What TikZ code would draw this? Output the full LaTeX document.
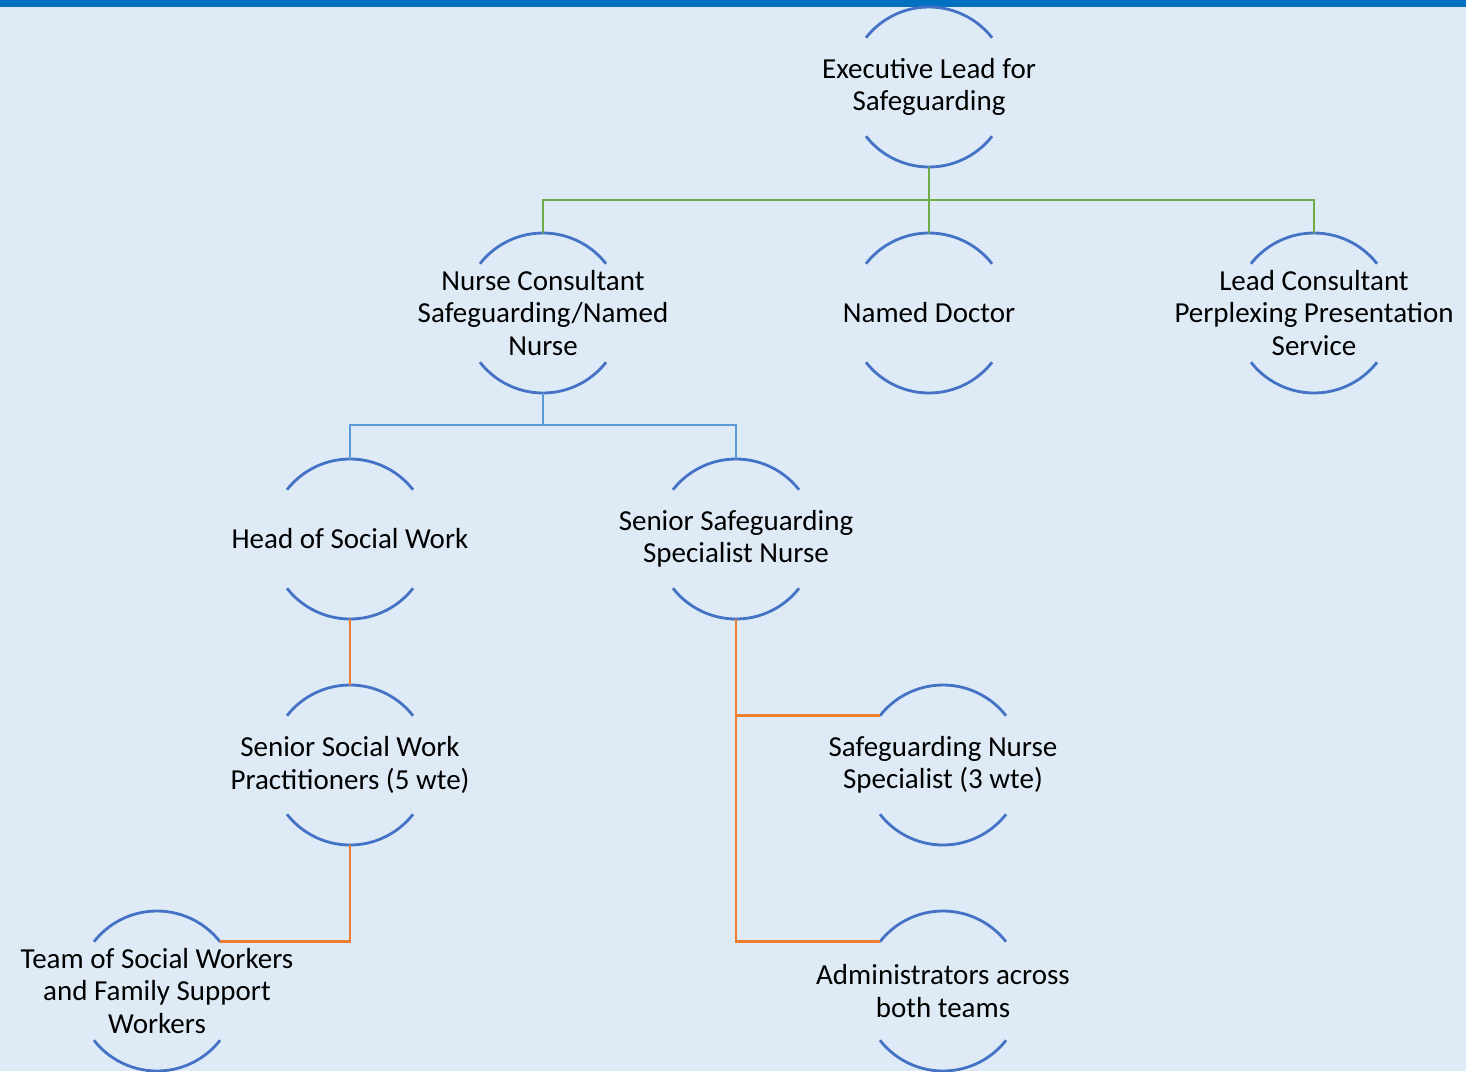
\documentclass[tikz,border=0pt]{standalone}
\usepackage{fontspec}
\setmainfont{Carlito}
\definecolor{bgc}{RGB}{222,235,247}
\definecolor{barc}{RGB}{0,112,192}
\definecolor{arcc}{RGB}{68,114,196}
\definecolor{grc}{RGB}{112,173,71}
\definecolor{blc}{RGB}{91,155,213}
\definecolor{orc}{RGB}{237,125,49}
\begin{document}
\begin{tikzpicture}[x=1pt,y=1pt,
  role/.style={shape=rectangle,inner sep=0pt,align=center,font=\fontsize{29}{32.5}\selectfont},
  arcline/.style={draw=arcc,line width=2.8pt},
  greenlink/.style={draw=grc,line width=2.8pt},
  bluelink/.style={draw=blc,line width=2.8pt},
  orangelink/.style={draw=orc,line width=2.8pt}]
\fill[bgc] (0,0) rectangle (1466,-1071);
\fill[barc] (0,0) rectangle (1466,-7);
\useasboundingbox (0,0) rectangle (1466,-1071);

\node[role] (exec) at (929,-87) {Executive Lead for\\Safeguarding};
\node[role] (nc) at (543,-313) {Nurse Consultant\\Safeguarding/Named\\Nurse};
\node[role] (nd) at (929,-313) {Named Doctor};
\node[role] (lc) at (1314,-313) {Lead Consultant\\Perplexing Presentation\\Service};
\node[role] (hsw) at (350,-539) {Head of Social Work};
\node[role] (sssn) at (736,-539) {Senior Safeguarding\\Specialist Nurse};
\node[role] (ssw) at (350,-765) {Senior Social Work\\Practitioners (5 wte)};
\node[role] (sns) at (943,-765) {Safeguarding Nurse\\Specialist (3 wte)};
\node[role] (team) at (157,-991) {Team of Social Workers\\and Family Support\\Workers};
\node[role] (adm) at (943,-991) {Administrators across\\both teams};

\foreach \n in {exec,nc,nd,lc,hsw,sssn,ssw,sns,team,adm}{
  \draw[arcline] ([shift={(38:80pt)}]\n.center) arc[start angle=38,end angle=142,radius=80pt];
  \draw[arcline] ([shift={(218:80pt)}]\n.center) arc[start angle=218,end angle=322,radius=80pt];
}

\draw[greenlink] ([yshift=-80pt]exec.center) -- ++(0,-33) -| ([yshift=80pt]nc.center);
\draw[greenlink] ([yshift=-80pt]exec.center) -- ++(0,-33) -| ([yshift=80pt]lc.center);
\draw[greenlink] ([yshift=-80pt]exec.center) -- ([yshift=80pt]nd.center);

\draw[bluelink] ([yshift=-80pt]nc.center) -- ++(0,-32) -| ([yshift=80pt]hsw.center);
\draw[bluelink] ([yshift=-80pt]nc.center) -- ++(0,-32) -| ([yshift=80pt]sssn.center);

\draw[orangelink] ([yshift=-80pt]hsw.center) -- ([yshift=80pt]ssw.center);
\draw[orangelink] ([yshift=-80pt]ssw.center) |- ([shift={(38:80pt)}]team.center);
\draw[orangelink] ([yshift=-80pt]sssn.center) |- ([shift={(142:80pt)}]sns.center);
\draw[orangelink] ([yshift=-80pt]sssn.center) |- ([shift={(142:80pt)}]adm.center);
\end{tikzpicture}
\end{document}
